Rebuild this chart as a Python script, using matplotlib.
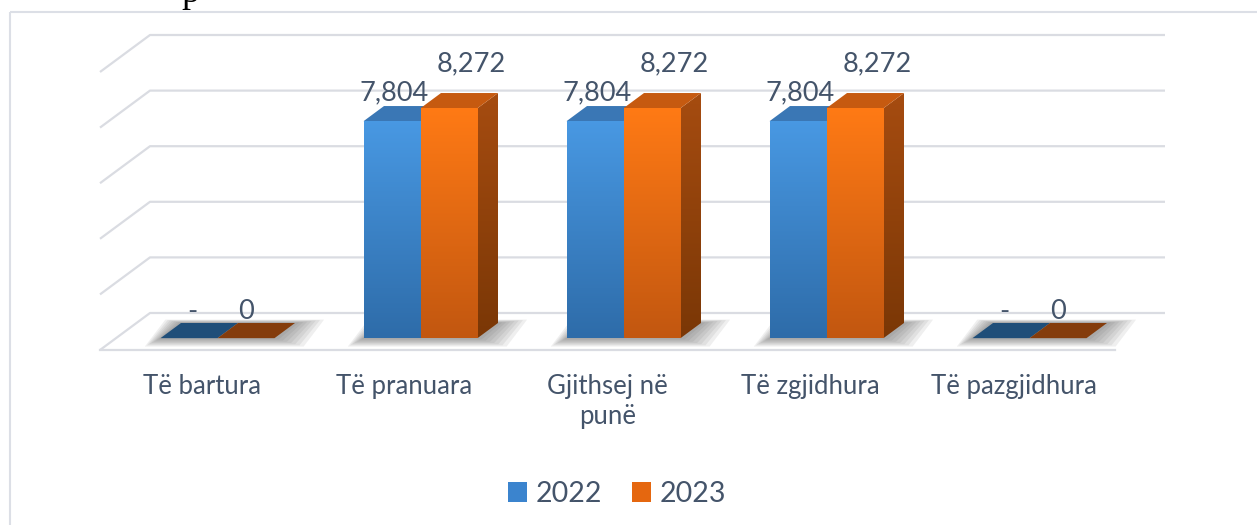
import matplotlib.pyplot as plt
import numpy as np
from matplotlib.patches import Polygon, Rectangle, Patch
from matplotlib.colors import LinearSegmentedColormap

# Datos
categorias = ['Të bartura', 'Të pranuara', 'Gjithsej në\npunë', 'Të zgjidhura', 'Të pazgjidhura']
anios = ['2022', '2023']
v2022 = [0, 7804, 7804, 7804, 0]
v2023 = [0, 8272, 8272, 8272, 0]
etiq_2022 = ['-', '7,804', '7,804', '7,804', '-']
etiq_2023 = ['0', '8,272', '8,272', '8,272', '0']
grid_vals = [0, 2000, 4000, 6000, 8000, 10000]

TXT = '#44546A'
GRID = '#DADCE2'
plt.rcParams['font.family'] = ['Lato', 'DejaVu Sans']

W, H = 1257, 525
fig = plt.figure(figsize=(W / 100, H / 100), dpi=100)
ax = fig.add_axes([0, 0, 1, 1])
ax.axis('off')

# escala: 1 categoria = 203 px, 1 unidad de valor = 0.0278 px
CPX = 203.0
VPX = 55.6 / 2000
x_left_px, y_floor_px = 100, 350
xlim = (-0.5 - x_left_px / CPX, -0.5 + (W - x_left_px) / CPX)
ylim = (-(H - y_floor_px) / VPX, y_floor_px / VPX)

# profundidad (oblicua) en unidades de datos
DX = 50 / CPX
DV = 37 / VPX
d1, d2 = 0.32, 0.73
bw = 57 / CPX


def P(x, v, d):
    return (x + DX * d, v + DV * d)


def px2v(p):
    return p / VPX


def px2x(p):
    return p / CPX


# marco
ax.add_patch(Rectangle((px2x(10) + xlim[0], ylim[1] - px2v(12)), 50, -50000,
                       fill=False, ec='#DCDFE6', lw=1.5, zorder=0))

# cuadricula (pared del fondo + pared izquierda)
n = len(categorias)
x0f, x1f = -0.5, n - 0.5
for g in grid_vals:
    ax.plot([P(x0f, g, 0)[0], P(x0f, g, 1)[0], P(x1f, g, 1)[0]],
            [P(x0f, g, 0)[1], P(x0f, g, 1)[1], P(x1f, g, 1)[1]],
            color=GRID, lw=1.6, zorder=1, solid_capstyle='butt')
# borde frontal del piso
ax.plot([x0f, x1f], [0, 0], color=GRID, lw=1.6, zorder=1)

azul_grad = LinearSegmentedColormap.from_list('az', ['#2E6CA9', '#4A9BE6'])
nar_grad = LinearSegmentedColormap.from_list('na', ['#C25710', '#FF7A15'])
nar_lado = LinearSegmentedColormap.from_list('nl', ['#7A3706', '#A64C10'])
estilos = {
    '2022': dict(front=azul_grad, top='#3A77B5', side=azul_grad, flat='#1F4E79'),
    '2023': dict(front=nar_grad, top='#C65A10', side=nar_lado, flat='#843C0C'),
}
grad = np.linspace(0, 1, 256).reshape(-1, 1)
vmax = 8272


def sombra(xa, xb, zo):
    # sombra difusa sobre el piso
    for k in range(7, 0, -1):
        e = k * 3.2 / CPX
        ev = k * 1.2 / VPX
        poly = [P(xa - e * 0.7, -ev, d1), P(xb + e * 1.3, -ev, d1),
                P(xb + e * 1.3, ev * 0.4, d2), P(xa - e * 0.7, ev * 0.4, d2)]
        ax.add_patch(Polygon(poly, closed=True, fc='#505050', ec='none',
                             alpha=0.09, zorder=zo))


def barra(xa, h, st, zo):
    xb = xa + bw
    if h == 0:
        poly = [P(xa, 0, d1), P(xb, 0, d1), P(xb, 0, d2), P(xa, 0, d2)]
        ax.add_patch(Polygon(poly, closed=True, fc=st['flat'], ec='none', zorder=zo))
        return
    # lado
    side = Polygon([P(xb, 0, d1), P(xb, 0, d2), P(xb, h, d2), P(xb, h, d1)],
                   closed=True, fc='none', ec='none')
    ax.add_patch(side)
    im = ax.imshow(grad, cmap=st['side'], origin='lower', aspect='auto',
                   extent=(P(xb, 0, d1)[0], P(xb, 0, d2)[0], DV * d1, h + DV * d2),
                   vmin=0, vmax=1, zorder=zo, interpolation='bilinear')
    im.set_clip_path(side)
    # techo
    ax.add_patch(Polygon([P(xa, h, d1), P(xb, h, d1), P(xb, h, d2), P(xa, h, d2)],
                         closed=True, fc=st['top'], ec='none', zorder=zo))
    # frente
    g = grad * (h / vmax)
    ax.imshow(g, cmap=st['front'], origin='lower', aspect='auto',
              extent=(P(xa, 0, d1)[0], P(xb, 0, d1)[0], DV * d1, h + DV * d1),
              vmin=0, vmax=1, zorder=zo + 0.1, interpolation='bilinear')


for i in range(n):
    zo = 3 + i
    sombra(i - bw, i + bw, zo - 0.5)
    barra(i - bw, v2022[i], estilos['2022'], zo)
    barra(i, v2023[i], estilos['2023'], zo + 0.3)

# etiquetas de datos
FS = 19.5
for i in range(n):
    cx_a = P(i - bw / 2, 0, d1)[0]
    cx_n = P(i + bw / 2, 0, d1)[0]
    top_a = v2022[i] + DV * d2
    top_n = v2023[i] + DV * d2
    if v2022[i] == 0:
        ax.text(cx_a + px2x(3), top_a + px2v(11), etiq_2022[i], ha='center',
                va='center', fontsize=FS, color=TXT, zorder=20)
        ax.text(cx_n, top_n + px2v(11), etiq_2023[i], ha='center',
                va='center', fontsize=FS, color=TXT, zorder=20)
    else:
        ax.text(cx_a + px2x(2), top_a + px2v(13), etiq_2022[i], ha='center',
                va='center', fontsize=FS, color=TXT, zorder=20)
        ax.text(cx_n + px2x(22), top_n + px2v(29), etiq_2023[i], ha='center',
                va='center', fontsize=FS, color=TXT, zorder=20)

# etiquetas de categorias
for i, c in enumerate(categorias):
    ax.text(i, -px2v(24), c, ha='center', va='top', fontsize=18.5,
            color=TXT, linespacing=1.25)

ax.set_xlim(*xlim)
ax.set_ylim(*ylim)

# texto cortado del documento
fig.text(190 / W, 1 - 2 / H, 'p', fontsize=26, family='Liberation Serif',
         ha='center', va='baseline', color='black')

# leyenda
handles = [Patch(fc='#3B84CE', ec='none'), Patch(fc='#E5670F', ec='none')]
fig.legend(handles, anios, loc='center', bbox_to_anchor=(617 / W, 1 - 494 / H),
           ncol=2, frameon=False, fontsize=20.5, handlelength=0.68,
           handleheight=0.68, handletextpad=0.3, columnspacing=1.05,
           labelcolor=TXT)

plt.savefig('out.png', dpi=100)
